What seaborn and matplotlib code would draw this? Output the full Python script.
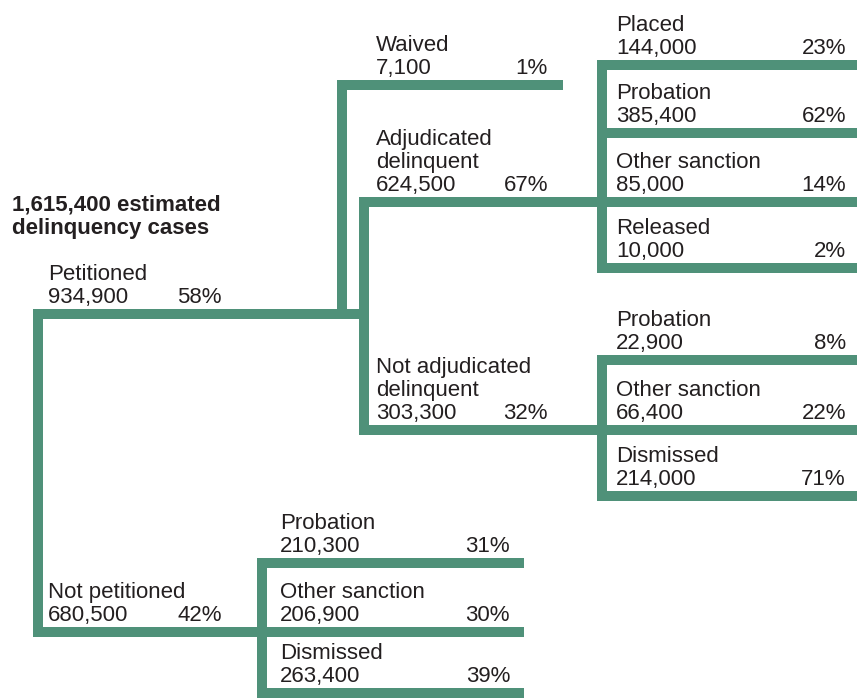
import pandas as pd
import matplotlib.pyplot as plt
import seaborn as sns

# Case flow data
title = "1,615,400 estimated\ndelinquency cases"
labels = ["Petitioned", "Not petitioned", "Waived", "Adjudicated\ndelinquent",
          "Not adjudicated\ndelinquent", "Placed", "Probation", "Other sanction",
          "Released", "Probation", "Other sanction", "Dismissed",
          "Probation", "Other sanction", "Dismissed"]
counts = [934900, 680500, 7100, 624500, 303300, 144000, 385400, 85000,
          10000, 22900, 66400, 214000, 210300, 206900, 263400]
pcts = [58, 42, 1, 67, 32, 23, 62, 14, 2, 8, 22, 71, 31, 30, 39]
parent = [-1, -1, 0, 0, 0, 3, 3, 3, 3, 4, 4, 4, 1, 1, 1]

# Diagram layout (pixels, y down)
stem_x = [38, 38, 342, 364, 364, 602, 602, 602, 602, 602, 602, 602, 262, 262, 262]
line_y = [314, 632, 85, 202, 430, 65, 133, 202, 268, 360, 430, 496, 563, 632, 693]
end_x = [364, 262, 558, 602, 852, 852, 852, 852, 852, 852, 852, 852, 519, 519, 519]
text_x = [48, 48, 376, 376, 376, 616, 616, 616, 616, 616, 616, 616, 280, 280, 280]
pct_x = [222, 222, 548, 548, 548, 846, 846, 846, 846, 846, 846, 846, 510, 510, 510]

GREEN = "#4f9179"
TEXT = "#231f20"

sns.set_style("white")
plt.rcParams["font.family"] = ["Liberation Sans", "DejaVu Sans"]

fig = plt.figure(figsize=(8.57, 6.98), dpi=100)
ax = fig.add_axes([0, 0, 1, 1])
ax.set_xlim(0, 857)
ax.set_ylim(698, 0)
ax.axis("off")

# build segments: horizontals for each node, verticals per parent/stem group
rows = []
seg = 0
for i in range(len(labels)):
    rows += [(stem_x[i], line_y[i], seg), (end_x[i], line_y[i], seg)]
    seg += 1
groups = {}
for i, p in enumerate(parent):
    groups.setdefault((p, stem_x[i]), []).append(line_y[i])
for (p, sx), ys in groups.items():
    if p >= 0:
        ys = ys + [line_y[p]]
    rows += [(sx, min(ys), seg), (sx, max(ys), seg)]
    seg += 1
segs = pd.DataFrame(rows, columns=["x", "y", "seg"])

sns.lineplot(data=segs, x="x", y="y", units="seg", estimator=None, sort=False,
             color=GREEN, linewidth=7.2, solid_capstyle="projecting", ax=ax)
ax.set_xlim(0, 857)
ax.set_ylim(698, 0)
ax.axis("off")

fs = 16
lh = 23
ax.text(12, 211, title.split("\n")[0], fontsize=fs, fontweight="bold",
        color=TEXT, va="baseline")
ax.text(12, 211 + lh, title.split("\n")[1], fontsize=fs, fontweight="bold",
        color=TEXT, va="baseline")

for i in range(len(labels)):
    base = line_y[i] - 11
    ax.text(text_x[i], base, f"{counts[i]:,}", fontsize=fs, color=TEXT, va="baseline")
    ax.text(pct_x[i], base, f"{pcts[i]}%", fontsize=fs, color=TEXT,
            va="baseline", ha="right")
    for k, line in enumerate(reversed(labels[i].split("\n"))):
        ax.text(text_x[i], base - lh * (k + 1), line, fontsize=fs, color=TEXT,
                va="baseline")

fig.savefig("out.png", dpi=100)
